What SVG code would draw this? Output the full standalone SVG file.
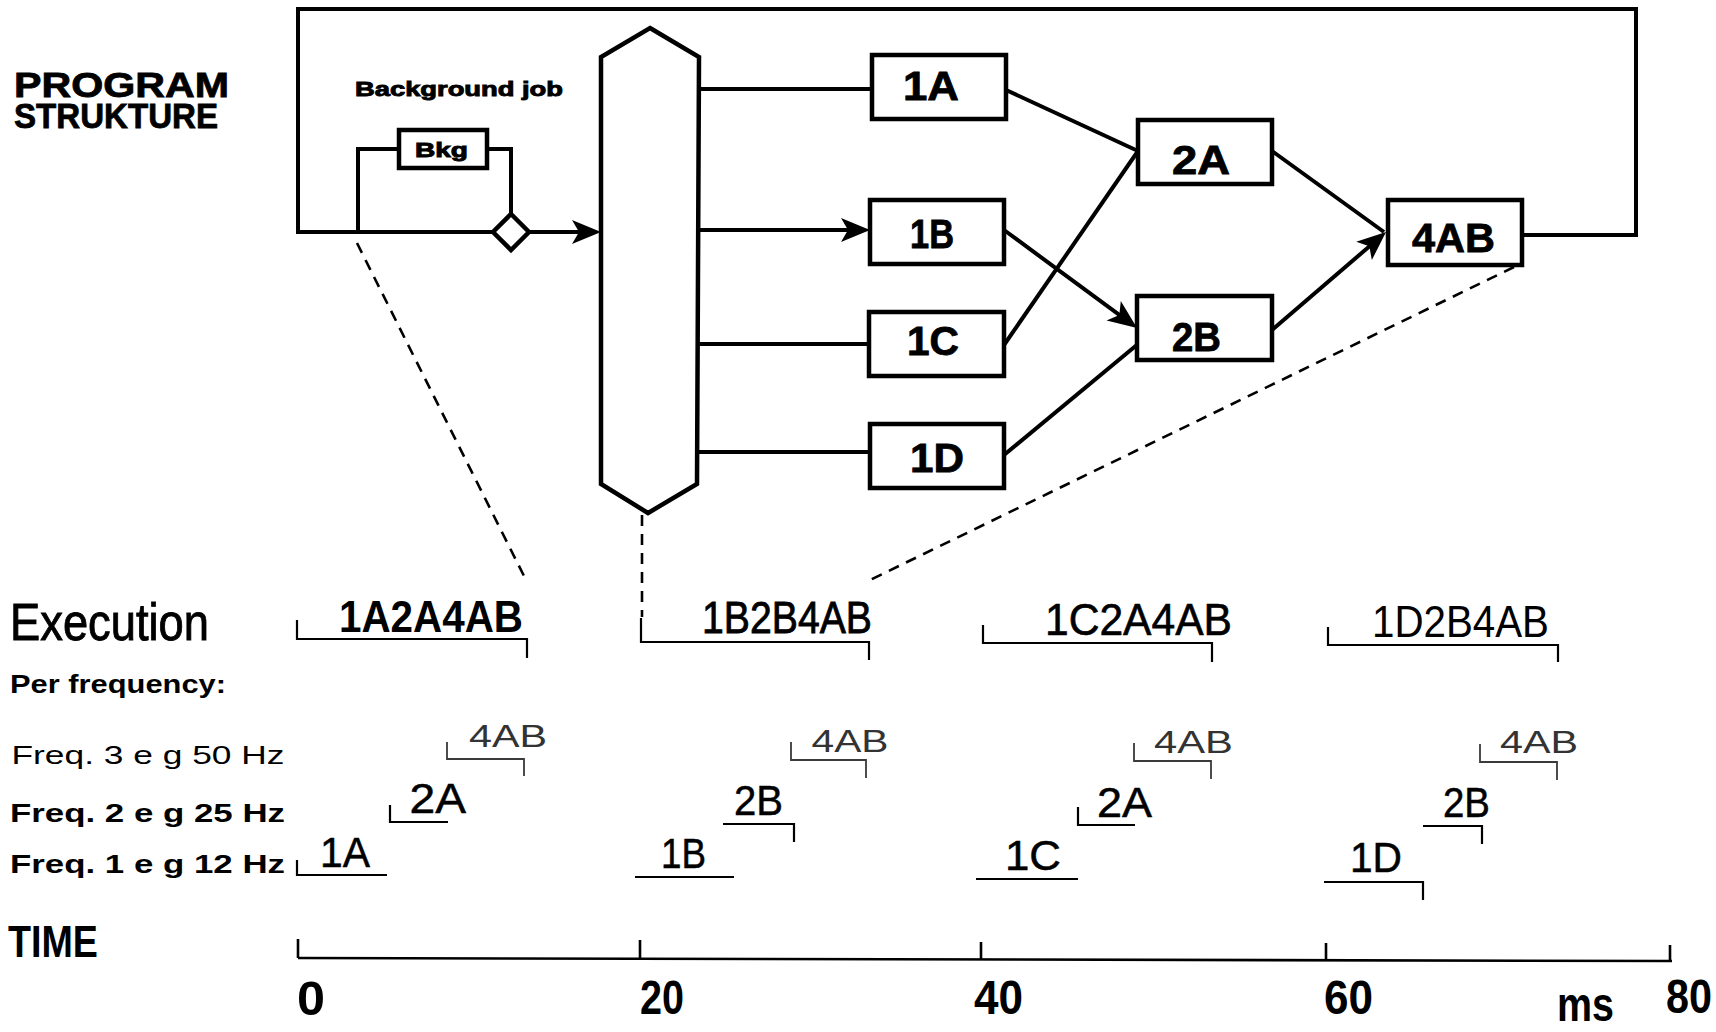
<svg xmlns="http://www.w3.org/2000/svg" width="1716" height="1032" viewBox="0 0 1716 1032">
<style>
.bg{fill:#fff}
.box{fill:#fff;stroke:#000;stroke-width:4.5}
.conn{fill:none;stroke:#000;stroke-width:4;stroke-linejoin:miter}
.dash{fill:none;stroke:#000;stroke-width:2.6;stroke-dasharray:11 8}
.br{fill:none;stroke:#000;stroke-width:2.2}
.br3{fill:none;stroke:#3a3a3a;stroke-width:1.8}
.axis{fill:none;stroke:#000;stroke-width:2.6}
text{font-family:"Liberation Sans",Arial,sans-serif;fill:#000}
.nl{font-size:41px;font-weight:bold;stroke:#000;stroke-width:0.8}
.hd{font-size:35px;font-weight:bold;stroke:#000;stroke-width:0.8}
.sm{font-size:20px;font-weight:bold;stroke:#000;stroke-width:0.9}
.ex{font-size:44px}
.f3{font-size:31px;fill:#333}
.f12{font-size:42px;stroke:#000;stroke-width:0.5}
.lab{font-size:25px;font-weight:bold}
.ax{font-size:48px;font-weight:bold}
</style>
<defs>
<marker id="arr" markerUnits="userSpaceOnUse" markerWidth="30" markerHeight="26" viewBox="0 0 30 26" refX="20" refY="13" orient="auto">
<path d="M0,1 L29,13 L0,25 L7,13 z" fill="#000"/>
</marker>
</defs>
<rect class="bg" x="0" y="0" width="1716" height="1032"/>

<g id="title">
<text class="hd"><tspan x="14" y="97" textLength="215" lengthAdjust="spacingAndGlyphs">PROGRAM</tspan><tspan x="14" y="128" textLength="204" lengthAdjust="spacingAndGlyphs">STRUKTURE</tspan></text>
<text class="sm" x="355" y="96" textLength="208" lengthAdjust="spacingAndGlyphs">Background job</text>
</g>

<g id="connectors">
<!-- loop frame from 4AB back to the start -->
<path class="conn" d="M1522,235 L1636,235 L1636,9 L298,9 L298,232 L494,232"/>
<path class="conn" d="M529,232 L592,232" marker-end="url(#arr)"/>
<!-- background job bypass -->
<path class="conn" d="M358,232 L358,149 L399,149"/>
<path class="conn" d="M487,149 L511,149 L511,214"/>
<!-- dispatcher to level 1 -->
<path class="conn" d="M699,89 L872,89"/>
<path class="conn" d="M699,230 L861,230" marker-end="url(#arr)"/>
<path class="conn" d="M699,344 L869,344"/>
<path class="conn" d="M699,452 L870,452"/>
<!-- level 1 to level 2 -->
<path class="conn" d="M1006,90 L1138,151"/>
<path class="conn" d="M1004,345 L1138,151"/>
<path class="conn" d="M1004,230 L1129.8,322.6" marker-end="url(#arr)"/>
<path class="conn" d="M1004,455 L1138,344"/>
<!-- level 2 to 4AB -->
<path class="conn" d="M1272,151 L1384,232"/>
<path class="conn" d="M1272,330 L1379.2,237.9" marker-end="url(#arr)"/>
<!-- dashed projection lines -->
<path class="dash" d="M357,243 L527,582"/>
<path class="dash" d="M642,515 L642,617"/>
<path class="dash" d="M1514,267 L866,582"/>
</g>

<g id="node-dispatcher">
<path class="box" d="M650,28 L699,57 L697,484 L648,513 L601,484 L601,57 Z"/>
</g>
<g id="node-diamond">
<path class="box" stroke-width="4" d="M511,214 L529,232 L511,250 L493,232 Z"/>
</g>
<g id="node-bkg">
<rect class="box" x="399" y="130" width="88" height="38"/>
<text class="sm" x="415" y="157" font-size="18" textLength="53" lengthAdjust="spacingAndGlyphs">Bkg</text>
</g>
<g id="node-1A">
<rect class="box" x="872" y="55" width="134" height="64"/>
<text class="nl" x="903" y="100" textLength="56" lengthAdjust="spacingAndGlyphs">1A</text>
</g>
<g id="node-1B">
<rect class="box" x="870" y="200" width="134" height="64"/>
<text class="nl" x="910" y="248" textLength="44" lengthAdjust="spacingAndGlyphs">1B</text>
</g>
<g id="node-1C">
<rect class="box" x="869" y="312" width="135" height="64"/>
<text class="nl" x="907" y="355" textLength="52" lengthAdjust="spacingAndGlyphs">1C</text>
</g>
<g id="node-1D">
<rect class="box" x="870" y="424" width="134" height="64"/>
<text class="nl" x="910" y="472" textLength="54" lengthAdjust="spacingAndGlyphs">1D</text>
</g>
<g id="node-2A">
<rect class="box" x="1138" y="120" width="134" height="64"/>
<text class="nl" x="1172" y="174" textLength="58" lengthAdjust="spacingAndGlyphs">2A</text>
</g>
<g id="node-2B">
<rect class="box" x="1137" y="296" width="135" height="64"/>
<text class="nl" x="1172" y="351" textLength="49" lengthAdjust="spacingAndGlyphs">2B</text>
</g>
<g id="node-4AB">
<rect class="box" x="1388" y="200" width="134" height="65"/>
<text class="nl" x="1412" y="252" textLength="83" lengthAdjust="spacingAndGlyphs">4AB</text>
</g>

<g id="timing">
<text x="10" y="640" font-size="52" stroke="#000" stroke-width="0.9" textLength="199" lengthAdjust="spacingAndGlyphs">Execution</text>
<text class="lab" x="10" y="693" textLength="216" lengthAdjust="spacingAndGlyphs">Per frequency:</text>
<text x="11.5" y="764" font-size="25" fill="#9a9a9a" textLength="273" lengthAdjust="spacingAndGlyphs">Freq. 3 e g 50 Hz</text>
<text class="lab" x="10" y="822" textLength="275" lengthAdjust="spacingAndGlyphs">Freq. 2 e g 25 Hz</text>
<text class="lab" x="10" y="873" textLength="275" lengthAdjust="spacingAndGlyphs">Freq. 1 e g 12 Hz</text>

<!-- execution sequences -->
<text class="ex" x="339" y="632" font-weight="bold" textLength="184" lengthAdjust="spacingAndGlyphs">1A2A4AB</text>
<path class="br" d="M297,620 L297,639 L527,639 L527,658"/>
<text class="ex" x="702" y="633" stroke="#000" stroke-width="0.8" textLength="170" lengthAdjust="spacingAndGlyphs">1B2B4AB</text>
<path class="br" d="M641,618 L641,642 L869,642 L869,660"/>
<text class="ex" x="1045" y="635" stroke="#000" stroke-width="0.6" textLength="187" lengthAdjust="spacingAndGlyphs">1C2A4AB</text>
<path class="br" d="M983,625 L983,643 L1212,643 L1212,662"/>
<text class="ex" x="1372" y="637" textLength="177" lengthAdjust="spacingAndGlyphs">1D2B4AB</text>
<path class="br" d="M1328,627 L1328,645 L1558,645 L1558,662"/>

<!-- freq 3 -->
<text class="f3" x="469" y="747" textLength="78" lengthAdjust="spacingAndGlyphs">4AB</text>
<path class="br3" d="M447,742 L447,759 L524,759 L524,776"/>
<text class="f3" x="811.5" y="752" textLength="77" lengthAdjust="spacingAndGlyphs">4AB</text>
<path class="br3" d="M791,742 L791,760 L866,760 L866,778"/>
<text class="f3" x="1154" y="753" textLength="79" lengthAdjust="spacingAndGlyphs">4AB</text>
<path class="br3" d="M1134,743 L1134,761 L1211,761 L1211,779"/>
<text class="f3" x="1500" y="753" textLength="78" lengthAdjust="spacingAndGlyphs">4AB</text>
<path class="br3" d="M1480,744 L1480,762 L1557,762 L1557,780"/>

<!-- freq 2 -->
<text class="f12" x="409.5" y="813" textLength="56.5" lengthAdjust="spacingAndGlyphs">2A</text>
<path class="br" d="M390,805 L390,822 L448,822"/>
<text class="f12" x="734" y="815" textLength="49" lengthAdjust="spacingAndGlyphs">2B</text>
<path class="br" d="M723,824 L794,824 L794,842"/>
<text class="f12" x="1097" y="817" textLength="55" lengthAdjust="spacingAndGlyphs">2A</text>
<path class="br" d="M1078,807 L1078,825 L1135,825"/>
<text class="f12" x="1443" y="817" textLength="47" lengthAdjust="spacingAndGlyphs">2B</text>
<path class="br" d="M1423,826 L1482,826 L1482,844"/>

<!-- freq 1 -->
<text class="f12" x="320" y="867" textLength="50" lengthAdjust="spacingAndGlyphs">1A</text>
<path class="br" d="M297,860 L297,875 L387,875"/>
<text class="f12" x="661" y="868" textLength="45" lengthAdjust="spacingAndGlyphs">1B</text>
<path class="br" d="M635,877 L734,877"/>
<text class="f12" x="1005" y="870" textLength="56" lengthAdjust="spacingAndGlyphs">1C</text>
<path class="br" d="M976,879 L1078,879"/>
<text class="f12" x="1350" y="872" textLength="52" lengthAdjust="spacingAndGlyphs">1D</text>
<path class="br" d="M1324,882 L1423,882 L1423,900"/>

<!-- time axis -->
<text x="8" y="957" font-size="44" font-weight="bold" textLength="90" lengthAdjust="spacingAndGlyphs">TIME</text>
<path class="axis" d="M298,958 L1672,961"/>
<path class="axis" d="M298,939 L298,958 M640,940 L640,958.5 M981,942 L981,959 M1326,943 L1326,960 M1670,945 L1670,961"/>
<text class="ax" x="297" y="1015" textLength="28" lengthAdjust="spacingAndGlyphs">0</text>
<text class="ax" x="640" y="1014" textLength="44" lengthAdjust="spacingAndGlyphs">20</text>
<text class="ax" x="974" y="1014" textLength="49" lengthAdjust="spacingAndGlyphs">40</text>
<text class="ax" x="1324" y="1014" textLength="49" lengthAdjust="spacingAndGlyphs">60</text>
<text class="ax" x="1666" y="1013" font-size="44" textLength="46" lengthAdjust="spacingAndGlyphs">80</text>
<text class="ax" x="1557" y="1021" textLength="57" lengthAdjust="spacingAndGlyphs">ms</text>
</g>
</svg>
